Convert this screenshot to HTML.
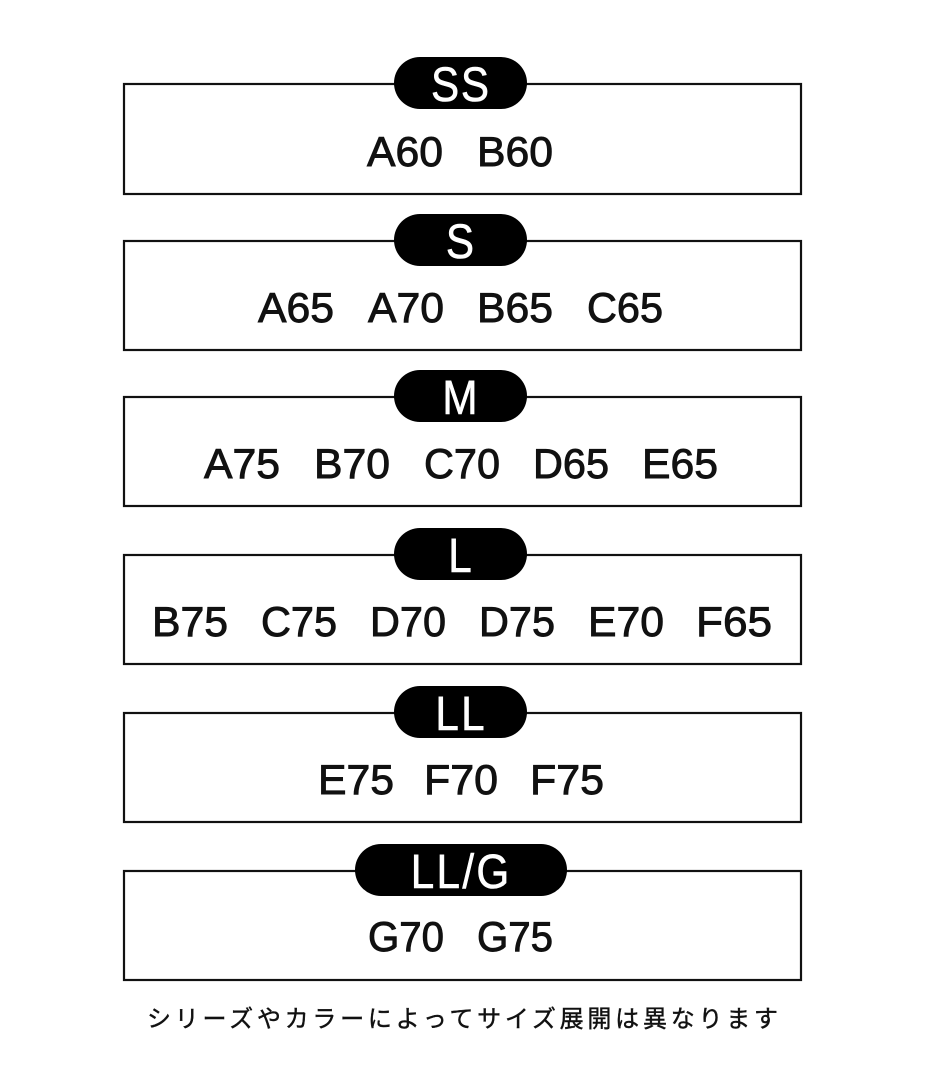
<!DOCTYPE html>
<html><head><meta charset="utf-8"><style>
html,body{margin:0;padding:0;background:#fff;}
svg{display:block;}
</style></head><body>
<svg width="925" height="1080" viewBox="0 0 925 1080" xmlns="http://www.w3.org/2000/svg" font-family="Liberation Sans, sans-serif">
<g fill="none" stroke="#111" stroke-width="2.2">
<rect x="124" y="84" width="677" height="110"/>
<rect x="124" y="241" width="677" height="109"/>
<rect x="124" y="397" width="677" height="109"/>
<rect x="124" y="555" width="677" height="109"/>
<rect x="124" y="713" width="677" height="109"/>
<rect x="124" y="871" width="677" height="109"/>
</g>
<g fill="#000">
<rect x="394" y="57" width="133" height="52" rx="26"/>
<rect x="394" y="214" width="133" height="52" rx="26"/>
<rect x="394" y="370" width="133" height="52" rx="26"/>
<rect x="394" y="528" width="133" height="52" rx="26"/>
<rect x="394" y="686" width="133" height="52" rx="26"/>
<rect x="355" y="844" width="212" height="52" rx="26"/>
</g>
<g fill="#fff" font-size="48" text-anchor="middle" stroke="#fff" stroke-width="0.6">
<text transform="translate(460,101) scale(0.88,1)" textLength="66" lengthAdjust="spacing">SS</text>
<text transform="translate(460,258) scale(0.88,1)">S</text>
<text transform="translate(460,414) scale(0.88,1)">M</text>
<text transform="translate(460,572) scale(0.88,1)">L</text>
<text transform="translate(460,730) scale(0.88,1)" textLength="56" lengthAdjust="spacing">LL</text>
<text transform="translate(460,888) scale(0.88,1)" textLength="112" lengthAdjust="spacing">LL/G</text>
</g>
<g fill="#111" font-size="42" stroke="#111" stroke-width="0.9">
<text x="367" y="166" textLength="76" lengthAdjust="spacingAndGlyphs">A60</text>
<text x="477" y="166" textLength="76" lengthAdjust="spacingAndGlyphs">B60</text>

<text x="258" y="322" textLength="76" lengthAdjust="spacingAndGlyphs">A65</text>
<text x="368" y="322" textLength="76" lengthAdjust="spacingAndGlyphs">A70</text>
<text x="477" y="322" textLength="76" lengthAdjust="spacingAndGlyphs">B65</text>
<text x="587" y="322" textLength="76" lengthAdjust="spacingAndGlyphs">C65</text>

<text x="204" y="478" textLength="76" lengthAdjust="spacingAndGlyphs">A75</text>
<text x="314" y="478" textLength="76" lengthAdjust="spacingAndGlyphs">B70</text>
<text x="424" y="478" textLength="76" lengthAdjust="spacingAndGlyphs">C70</text>
<text x="533" y="478" textLength="76" lengthAdjust="spacingAndGlyphs">D65</text>
<text x="642" y="478" textLength="76" lengthAdjust="spacingAndGlyphs">E65</text>

<text x="152" y="636" textLength="76" lengthAdjust="spacingAndGlyphs">B75</text>
<text x="261" y="636" textLength="76" lengthAdjust="spacingAndGlyphs">C75</text>
<text x="370" y="636" textLength="76" lengthAdjust="spacingAndGlyphs">D70</text>
<text x="479" y="636" textLength="76" lengthAdjust="spacingAndGlyphs">D75</text>
<text x="588" y="636" textLength="76" lengthAdjust="spacingAndGlyphs">E70</text>
<text x="696" y="636" textLength="76" lengthAdjust="spacingAndGlyphs">F65</text>

<text x="318" y="794" textLength="76" lengthAdjust="spacingAndGlyphs">E75</text>
<text x="424" y="794" textLength="74" lengthAdjust="spacingAndGlyphs">F70</text>
<text x="530" y="794" textLength="74" lengthAdjust="spacingAndGlyphs">F75</text>

<text x="368" y="951" textLength="76" lengthAdjust="spacingAndGlyphs">G70</text>
<text x="477" y="951" textLength="76" lengthAdjust="spacingAndGlyphs">G75</text>
</g>
<text x="147" y="1027" font-size="24" fill="#111" stroke="#111" stroke-width="0.4" font-family="Liberation Sans, Noto Sans CJK JP, sans-serif" textLength="631" lengthAdjust="spacing">シリーズやカラーによってサイズ展開は異なります</text>
</svg>
</body></html>
